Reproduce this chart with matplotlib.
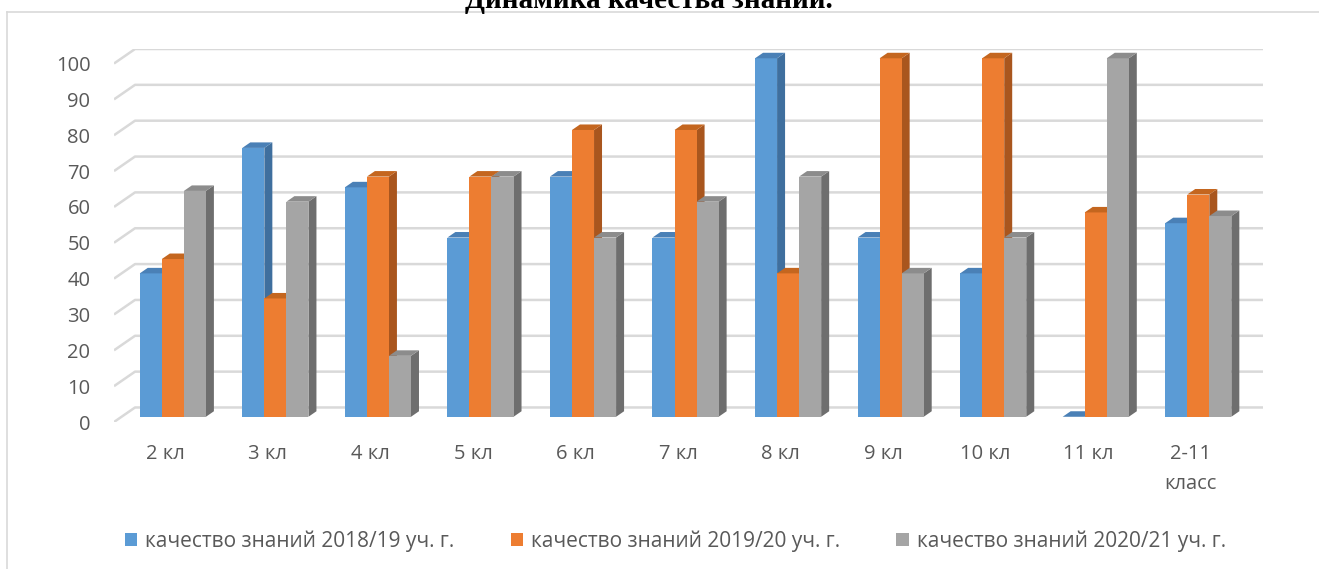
import matplotlib
matplotlib.use("Agg")
import matplotlib.pyplot as plt
from matplotlib.patches import Polygon, Patch
from matplotlib.lines import Line2D

# данные
categories = ['2 кл', '3 кл', '4 кл', '5 кл', '6 кл', '7 кл', '8 кл', '9 кл', '10 кл', '11 кл', '2-11\nкласс']
q2018 = [40, 75, 64, 50, 67, 50, 100, 50, 40, 0, 54]
q2019 = [44, 33, 67, 67, 80, 80, 40, 100, 100, 57, 62]
q2020 = [63, 60, 17, 67, 50, 60, 67, 40, 50, 100, 56]
series_names = ['качество знаний 2018/19 уч. г.', 'качество знаний 2019/20 уч. г.', 'качество знаний 2020/21 уч. г.']
yticks = list(range(0, 101, 10))

front_cols = ['#5B9BD5', '#ED7D31', '#A5A5A5']
side_cols = ['#3F6F9E', '#A9561E', '#6E6E6E']
top_cols = ['#4A80B6', '#C4661F', '#8C8C8C']
txt = '#595959'
grid_c = '#D9D9D9'

plt.rcParams['font.family'] = ['Open Sans', 'DejaVu Sans']

W, H = 1319, 569
fig = plt.figure(figsize=(W / 100, H / 100), dpi=100)

# рамка
fig.add_artist(Line2D([7 / W, 7 / W], [0, 1 - 12 / H], color=grid_c, lw=1.2))
fig.add_artist(Line2D([7 / W, 1], [1 - 12 / H, 1 - 12 / H], color=grid_c, lw=1.2))

# "3D" оси: глубина стенки в единицах данных
wall_dx = 0.205
wall_dy = 4.05
n = len(categories)
ax = fig.add_axes([114 / W, 1 - 422 / H, 1149 / W, 373 / H])
ax.set_xlim(-0.5, n - 0.5 + wall_dx)
ax.set_ylim(0, 100 + wall_dy)
for s in ax.spines.values():
    s.set_visible(False)

# сетка на задней стенке
for v in yticks:
    ax.plot([-0.5, -0.5 + wall_dx, n - 0.5 + wall_dx], [v, v + wall_dy, v + wall_dy],
            color=grid_c, lw=1.8, zorder=1, solid_capstyle='butt')

bw = 0.215
d0, d1 = 0.36, 0.74
series = [q2018, q2019, q2020]
for i in range(n):
    for k in range(3):
        h = series[k][i]
        xl = i - 1.5 * bw + k * bw + d0 * wall_dx
        xr = xl + bw
        yb = d0 * wall_dy
        yt = h + d0 * wall_dy
        ddx = (d1 - d0) * wall_dx
        ddy = (d1 - d0) * wall_dy
        z = 3 + i * 0.01 + k * 0.001
        side = Polygon([(xr, yb), (xr + ddx, yb + ddy), (xr + ddx, yt + ddy), (xr, yt)],
                       closed=True, fc=side_cols[k], ec='none', zorder=z)
        top = Polygon([(xl, yt), (xr, yt), (xr + ddx, yt + ddy), (xl + ddx, yt + ddy)],
                      closed=True, fc=top_cols[k], ec='none', zorder=z)
        ax.add_patch(side)
        ax.bar(xl, h, bw, bottom=yb, align='edge', color=front_cols[k], zorder=z)
        ax.add_patch(top)

ax.set_yticks(yticks)
ax.set_yticklabels([str(v) for v in yticks], color=txt, fontsize=14.5)
ax.set_xticks(range(n))
ax.set_xticklabels(categories, color=txt, fontsize=14.5, linespacing=1.65)
ax.tick_params(axis='y', length=0, pad=17)
ax.tick_params(axis='x', length=0, pad=16)

fig.text(649 / W, 1 - 8 / H, 'Динамика качества знаний.', ha='center', va='baseline',
         fontsize=21, fontweight='bold', family='Liberation Serif', color='black')

handles = [Patch(fc=c, ec='none') for c in front_cols]
fig.legend(handles, series_names, loc='center', bbox_to_anchor=(0.512, 1 - 541 / H), ncol=3,
           frameon=False, fontsize=15, labelcolor=txt, handlelength=0.6, handleheight=0.6,
           handletextpad=0.38, columnspacing=2.7)

fig.savefig('out.png', dpi=100)
